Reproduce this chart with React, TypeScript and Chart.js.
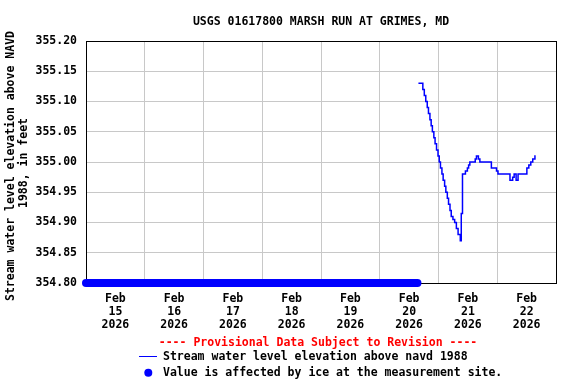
import React, { useEffect, useRef } from "react";
import { Chart, registerables } from "chart.js";

Chart.register(...registerables);

const TITLE = "USGS 01617800 MARSH RUN AT GRIMES, MD";
const Y_TITLE = ["Stream water level elevation above NAVD", "1988, in feet"];
const MONTH = "Feb";
const YEAR = "2026";
const DAYS = ["15", "16", "17", "18", "19", "20", "21", "22"];
const Y_TICKS = [354.8, 354.85, 354.9, 354.95, 355.0, 355.05, 355.1, 355.15, 355.2];
const PROVISIONAL = "---- Provisional Data Subject to Revision ----";
const LEGEND_LINE = "Stream water level elevation above navd 1988";
const LEGEND_ICE = "Value is affected by ice at the measurement site.";

// hours since Feb 15 2026 00:00
const LEVEL_HOURS = [
  135.8, 137.6, 138.2, 138.8, 139.4, 139.9, 140.5, 141.0, 141.5, 142.1, 142.6,
  143.2, 143.8, 144.3, 144.8, 145.4, 145.9, 146.5, 147.0, 147.6, 148.1, 148.7,
  149.2, 149.9, 150.6, 151.3, 152.0, 152.9, 153.3, 153.8, 155.0, 155.8, 156.3,
  156.8, 159.0, 159.5, 160.3, 160.9, 165.6, 167.7, 168.3, 173.2, 174.3, 174.9,
  175.7, 176.5, 180.1, 180.9, 181.7, 182.5, 183.4, 183.7,
];
const LEVEL_VALUES = [
  355.13, 355.12, 355.11, 355.1, 355.09, 355.08, 355.07, 355.06, 355.05, 355.04, 355.03,
  355.02, 355.01, 355.0, 354.99, 354.98, 354.97, 354.96, 354.95, 354.94, 354.93, 354.92,
  354.91, 354.905, 354.9, 354.89, 354.88, 354.87, 354.915, 354.98, 354.985, 354.99, 354.995,
  355.0, 355.005, 355.01, 355.005, 355.0, 354.99, 354.985, 354.98, 354.97, 354.975, 354.98,
  354.97, 354.98, 354.99, 354.995, 355.0, 355.005, 355.01, 355.01,
];
const ICE_HOURS = [0, 135.4];
const ICE_VALUES = [354.8, 354.8];

const X_MIN = 0;
const X_MAX = 192;
const FONT = "'DejaVu Sans Mono', monospace";

export default function App() {
  const ref = useRef<HTMLCanvasElement | null>(null);

  useEffect(() => {
    if (!ref.current) return;
    const xTicks: number[] = [];
    for (let h = X_MIN; h <= X_MAX; h += 12) xTicks.push(h);

    const decor = {
      id: "decor",
      beforeDatasetsDraw(chart: any) {
        const { ctx, chartArea: a } = chart;
        ctx.save();
        ctx.strokeStyle = "#000";
        ctx.lineWidth = 1;
        ctx.strokeRect(Math.round(a.left) + 0.5, Math.round(a.top) + 0.5, Math.round(a.right - a.left), Math.round(a.bottom - a.top));
        ctx.restore();
      },
      afterDraw(chart: any) {
        const { ctx, chartArea: a } = chart;
        ctx.save();
        ctx.fillStyle = "#000";
        ctx.textBaseline = "middle";
        ctx.font = `bold 11.5px ${FONT}`;
        ctx.textAlign = "center";
        ctx.fillText(TITLE, (a.left + a.right) / 2, 22);

        ctx.save();
        ctx.translate(11, 166);
        ctx.rotate(-Math.PI / 2);
        ctx.fillText(Y_TITLE[0], 0, 0);
        ctx.restore();
        ctx.save();
        ctx.translate(24.5, 163);
        ctx.rotate(-Math.PI / 2);
        ctx.fillText(Y_TITLE[1], 0, 0);
        ctx.restore();

        ctx.fillStyle = "#ff0000";
        ctx.fillText(PROVISIONAL, 318, 343);

        ctx.textAlign = "left";
        ctx.fillStyle = "#000";
        ctx.fillText(LEGEND_LINE, 163, 357);
        ctx.fillText(LEGEND_ICE, 163, 373);

        ctx.strokeStyle = "#0000ff";
        ctx.lineWidth = 1;
        ctx.beginPath();
        ctx.moveTo(139, 356.5);
        ctx.lineTo(157, 356.5);
        ctx.stroke();

        ctx.fillStyle = "#0000ff";
        ctx.beginPath();
        ctx.arc(148.3, 372.7, 4, 0, Math.PI * 2);
        ctx.fill();
        ctx.restore();
      },
    };

    const chart = new Chart(ref.current, {
      type: "line",
      data: {
        datasets: [
          {
            label: "ice",
            data: ICE_HOURS.map((h, i) => ({ x: h, y: ICE_VALUES[i] })),
            borderColor: "#0000ff",
            backgroundColor: "#0000ff",
            borderWidth: 8,
            borderCapStyle: "round",
            pointRadius: 0,
            clip: false as any,
          },
          {
            label: "level",
            data: LEVEL_HOURS.map((h, i) => ({ x: h, y: LEVEL_VALUES[i] })),
            borderColor: "#0000ff",
            backgroundColor: "#0000ff",
            borderWidth: 1.5,
            stepped: true,
            pointRadius: 0,
          },
        ],
      },
      options: {
        animation: false,
        responsive: false,
        maintainAspectRatio: false,
        layout: { padding: { left: 0, top: 41, right: 20, bottom: 51 } },
        plugins: {
          legend: { display: false },
          title: { display: false },
          tooltip: { enabled: false },
        },
        scales: {
          x: {
            type: "linear",
            min: X_MIN,
            max: X_MAX,
            afterBuildTicks: (s: any) => {
              s.ticks = xTicks.map((v) => ({ value: v }));
            },
            afterFit: (s: any) => {
              s.height = 50;
            },
            border: { display: false },
            grid: {
              drawTicks: false,
              color: (c: any) => (c.tick && c.tick.value % 24 === 0 ? "#c8c8c8" : "rgba(0,0,0,0)"),
            },
            ticks: {
              autoSkip: false,
              maxRotation: 0,
              minRotation: 0,
              padding: 10,
              color: "#000",
              font: { family: FONT, size: 11.5, weight: "bold", lineHeight: 1.12 },
              callback: (v: any) => {
                const n = Number(v);
                if (n % 24 !== 12) return "";
                return [MONTH, DAYS[Math.floor(n / 24)], YEAR];
              },
            },
          },
          y: {
            type: "linear",
            min: Y_TICKS[0],
            max: Y_TICKS[Y_TICKS.length - 1],
            afterBuildTicks: (s: any) => {
              s.ticks = Y_TICKS.map((v) => ({ value: v }));
            },
            afterFit: (s: any) => {
              s.width = 86;
            },
            border: { display: false },
            grid: { drawTicks: false, color: "#c8c8c8" },
            ticks: {
              padding: 9,
              color: "#000",
              font: { family: FONT, size: 11.5, weight: "bold" },
              callback: (v: any) => Number(v).toFixed(2),
            },
          },
        },
      },
      plugins: [decor],
    });
    return () => chart.destroy();
  }, []);

  return (
    <div style={{ position: "absolute", left: 0, top: 0, width: 576, height: 384, background: "#fff" }}>
      <canvas ref={ref} width={576} height={384} style={{ width: 576, height: 384 }} />
    </div>
  );
}
